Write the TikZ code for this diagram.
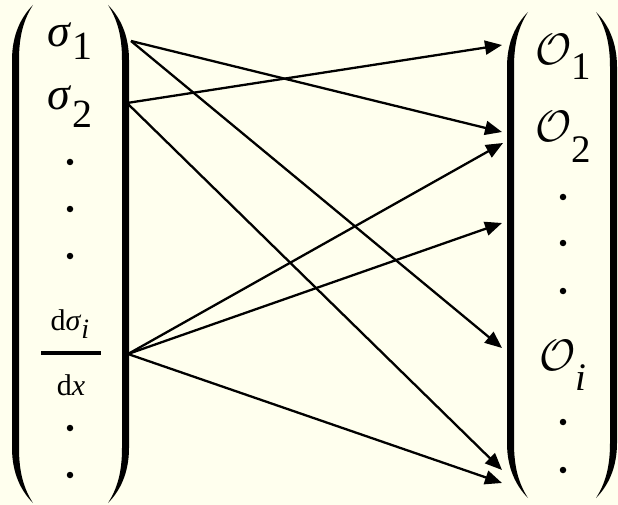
\RequirePackage{fix-cm}
\documentclass[tikz,border=0pt]{standalone}
\usepackage{fontspec}
\setmainfont{Liberation Serif}
\usetikzlibrary{arrows.meta}
\definecolor{paper}{RGB}{255,255,238}
\newcommand{\lowsub}[3]{\raisebox{-#1}{\fontsize{#2}{#2}\selectfont #3}}

\begin{document}
\begin{tikzpicture}[x=1pt, y=-1pt, >={Triangle[length=17pt,width=14pt]},
  arr/.style={->, line width=2.3pt},
  dotn/.style={circle, fill, inner sep=0pt, minimum size=6.5pt},
  ent/.style={anchor=base, inner sep=0pt, font={\fontsize{46}{46}\selectfont}},
  fracpart/.style={anchor=base, inner sep=0pt, font={\fontsize{30}{30}\selectfont}},
  pics/paren/.style={code={
    \fill (0,-#1) .. controls (-12,{-#1+12}) and (-21,{-#1+30}) .. (-21,{-#1+55})
      -- (-21,{#1-55}) .. controls (-21,{#1-30}) and (-12,{#1-12}) .. (0,#1)
      .. controls (-9,{#1-14}) and (-14,{#1-30}) .. (-14,{#1-55})
      -- (-14,{-#1+55}) .. controls (-14,{-#1+30}) and (-9,{-#1+14}) .. (0,-#1) -- cycle;
  }}]
  \fill[paper] (0,0) rectangle (618,505);
  \useasboundingbox (0,0) rectangle (618,505);

  % left column
  \pic at (33,254) {paren=249};
  \pic[xscale=-1] at (108,254) {paren=249};
  \node[ent] (s1) at (70,47) {\textit{σ}\lowsub{13pt}{40}{1}};
  \node[ent] (s2) at (70,110) {\textit{σ}\lowsub{18pt}{40}{2}};
  \node[dotn] (l1) at (70,162) {};
  \node[dotn] (l2) at (70,209) {};
  \node[dotn] (l3) at (70,256) {};
  \node[fracpart] (dnum) at (70,330) {d\textit{σ}\lowsub{8pt}{28}{\textit{i}}};
  \node[fracpart] (dden) at (71,395) {d\textit{x}};
  \draw[line width=4pt] (41,353) -- (101,353);
  \node[dotn] (l4) at (70,428) {};
  \node[dotn] (l5) at (70,475) {};

  % right column
  \pic at (528,255) {paren=243};
  \pic[xscale=-1] at (596,255) {paren=243};
  \node[ent, font={\fontsize{44}{44}\selectfont}] (o1) at (563,65) {$\mathcal{O}$\lowsub{15pt}{39}{1}};
  \node[ent, font={\fontsize{44}{44}\selectfont}] (o2) at (563,142) {$\mathcal{O}$\lowsub{21pt}{39}{2}};
  \node[dotn] (r1) at (563,197) {};
  \node[dotn] (r2) at (563,243) {};
  \node[dotn] (r3) at (563,291) {};
  \node[ent, font={\fontsize{44}{44}\selectfont}] (oi) at (563,370) {$\mathcal{O}$\lowsub{20pt}{39}{\textit{i}}};
  \node[dotn] (r4) at (563,422) {};
  \node[dotn] (r5) at (563,470) {};

  % ports
  \coordinate (p1) at (131,41);
  \coordinate (p2) at (127,103);
  \coordinate (p3) at (128,354);
  \coordinate (q1) at (502,45);
  \coordinate (q2) at (502,132);
  \coordinate (q3) at (503,143);
  \coordinate (q4) at (502,223);
  \coordinate (q5) at (502,348);
  \coordinate (q6) at (502,470);
  \coordinate (q7) at (502,483);

  \draw[arr] (p1) -- (q2);
  \draw[arr] (p1) -- (q5);
  \draw[arr] (p2) -- (q1);
  \draw[arr] (p2) -- (q6);
  \draw[arr] (p3) -- (q3);
  \draw[arr] (p3) -- (q4);
  \draw[arr] (p3) -- (q7);
\end{tikzpicture}
\end{document}
